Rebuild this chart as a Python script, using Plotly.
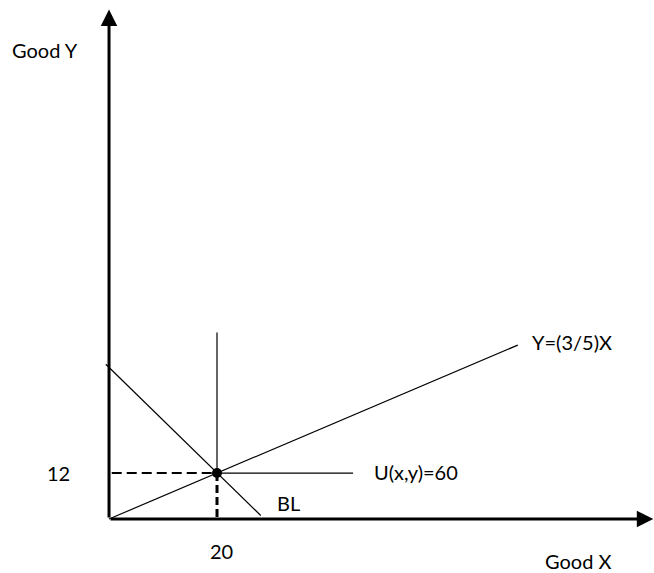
import plotly.graph_objects as go

# ---- data (economic units) ----
optimum_x = [20]
optimum_y = [12]
ray_x = [0, 75.7]          # Y = (3/5)X
ray_y = [0, 45.4]
budget_x = [-0.6, 28.1]    # budget line BL
budget_y = [40.4, 0.9]
ic_x = [20, 20, 45.2]      # L-shaped indifference curve U(x,y)=60
ic_y = [48.7, 12, 12]
guide_h_x = [0.5, 20]
guide_h_y = [12, 12]
guide_v_x = [20, 20]
guide_v_y = [12, 0.3]
tick_labels = ["12", "20"]

FONT = "Lato"
fig = go.Figure()

line_black = dict(color="black", width=1.2)
fig.add_trace(go.Scatter(x=ray_x, y=ray_y, mode="lines", line=line_black))
fig.add_trace(go.Scatter(x=budget_x, y=budget_y, mode="lines", line=line_black))
fig.add_trace(go.Scatter(x=ic_x, y=ic_y, mode="lines", line=line_black))
fig.add_trace(go.Scatter(x=guide_h_x, y=guide_h_y, mode="lines",
                         line=dict(color="black", width=2, dash="10px,5px")))
fig.add_trace(go.Scatter(x=guide_v_x, y=guide_v_y, mode="lines",
                         line=dict(color="black", width=3, dash="8px,4px")))
fig.add_trace(go.Scatter(x=optimum_x, y=optimum_y, mode="markers",
                         marker=dict(color="black", size=10)))

# axes with arrows
for (tx, ty) in [(0, 133.0), (100.8, 0)]:
    fig.add_annotation(x=tx, y=ty, ax=0, ay=0, xref="x", yref="y",
                       axref="x", ayref="y", showarrow=True, arrowhead=2,
                       arrowsize=1.1, arrowwidth=3, arrowcolor="black", text="")

txt = dict(family=FONT, size=20, color="black")
labels = [
    ("Good Y", -11.9, 122.5),
    ("Good X", 86.8, -11.0),
    ("Y=(3/5)X", 85.7, 46.2),
    ("U(x,y)=60", 56.9, 12.2),
    ("BL", 33.2, 4.2),
    (tick_labels[0], -9.3, 12.0),
    (tick_labels[1], 20.9, -8.4),
]
for t, x, y in labels:
    fig.add_annotation(x=x, y=y, xref="x", yref="y", text=t, showarrow=False,
                       font=txt, xanchor="center", yanchor="middle",
                       borderpad=0)

fig.update_layout(
    width=654, height=573,
    margin=dict(l=0, r=0, t=0, b=0),
    paper_bgcolor="white", plot_bgcolor="white",
    showlegend=False,
    xaxis=dict(range=[-20.19, 100.93], visible=False, fixedrange=True),
    yaxis=dict(range=[-14.1, 135.5], visible=False, fixedrange=True),
)

fig.write_html("out.html",
               config={"displayModeBar": False},
               post_script="document.body.style.margin='0';"
                           "document.body.style.overflow='hidden';")
